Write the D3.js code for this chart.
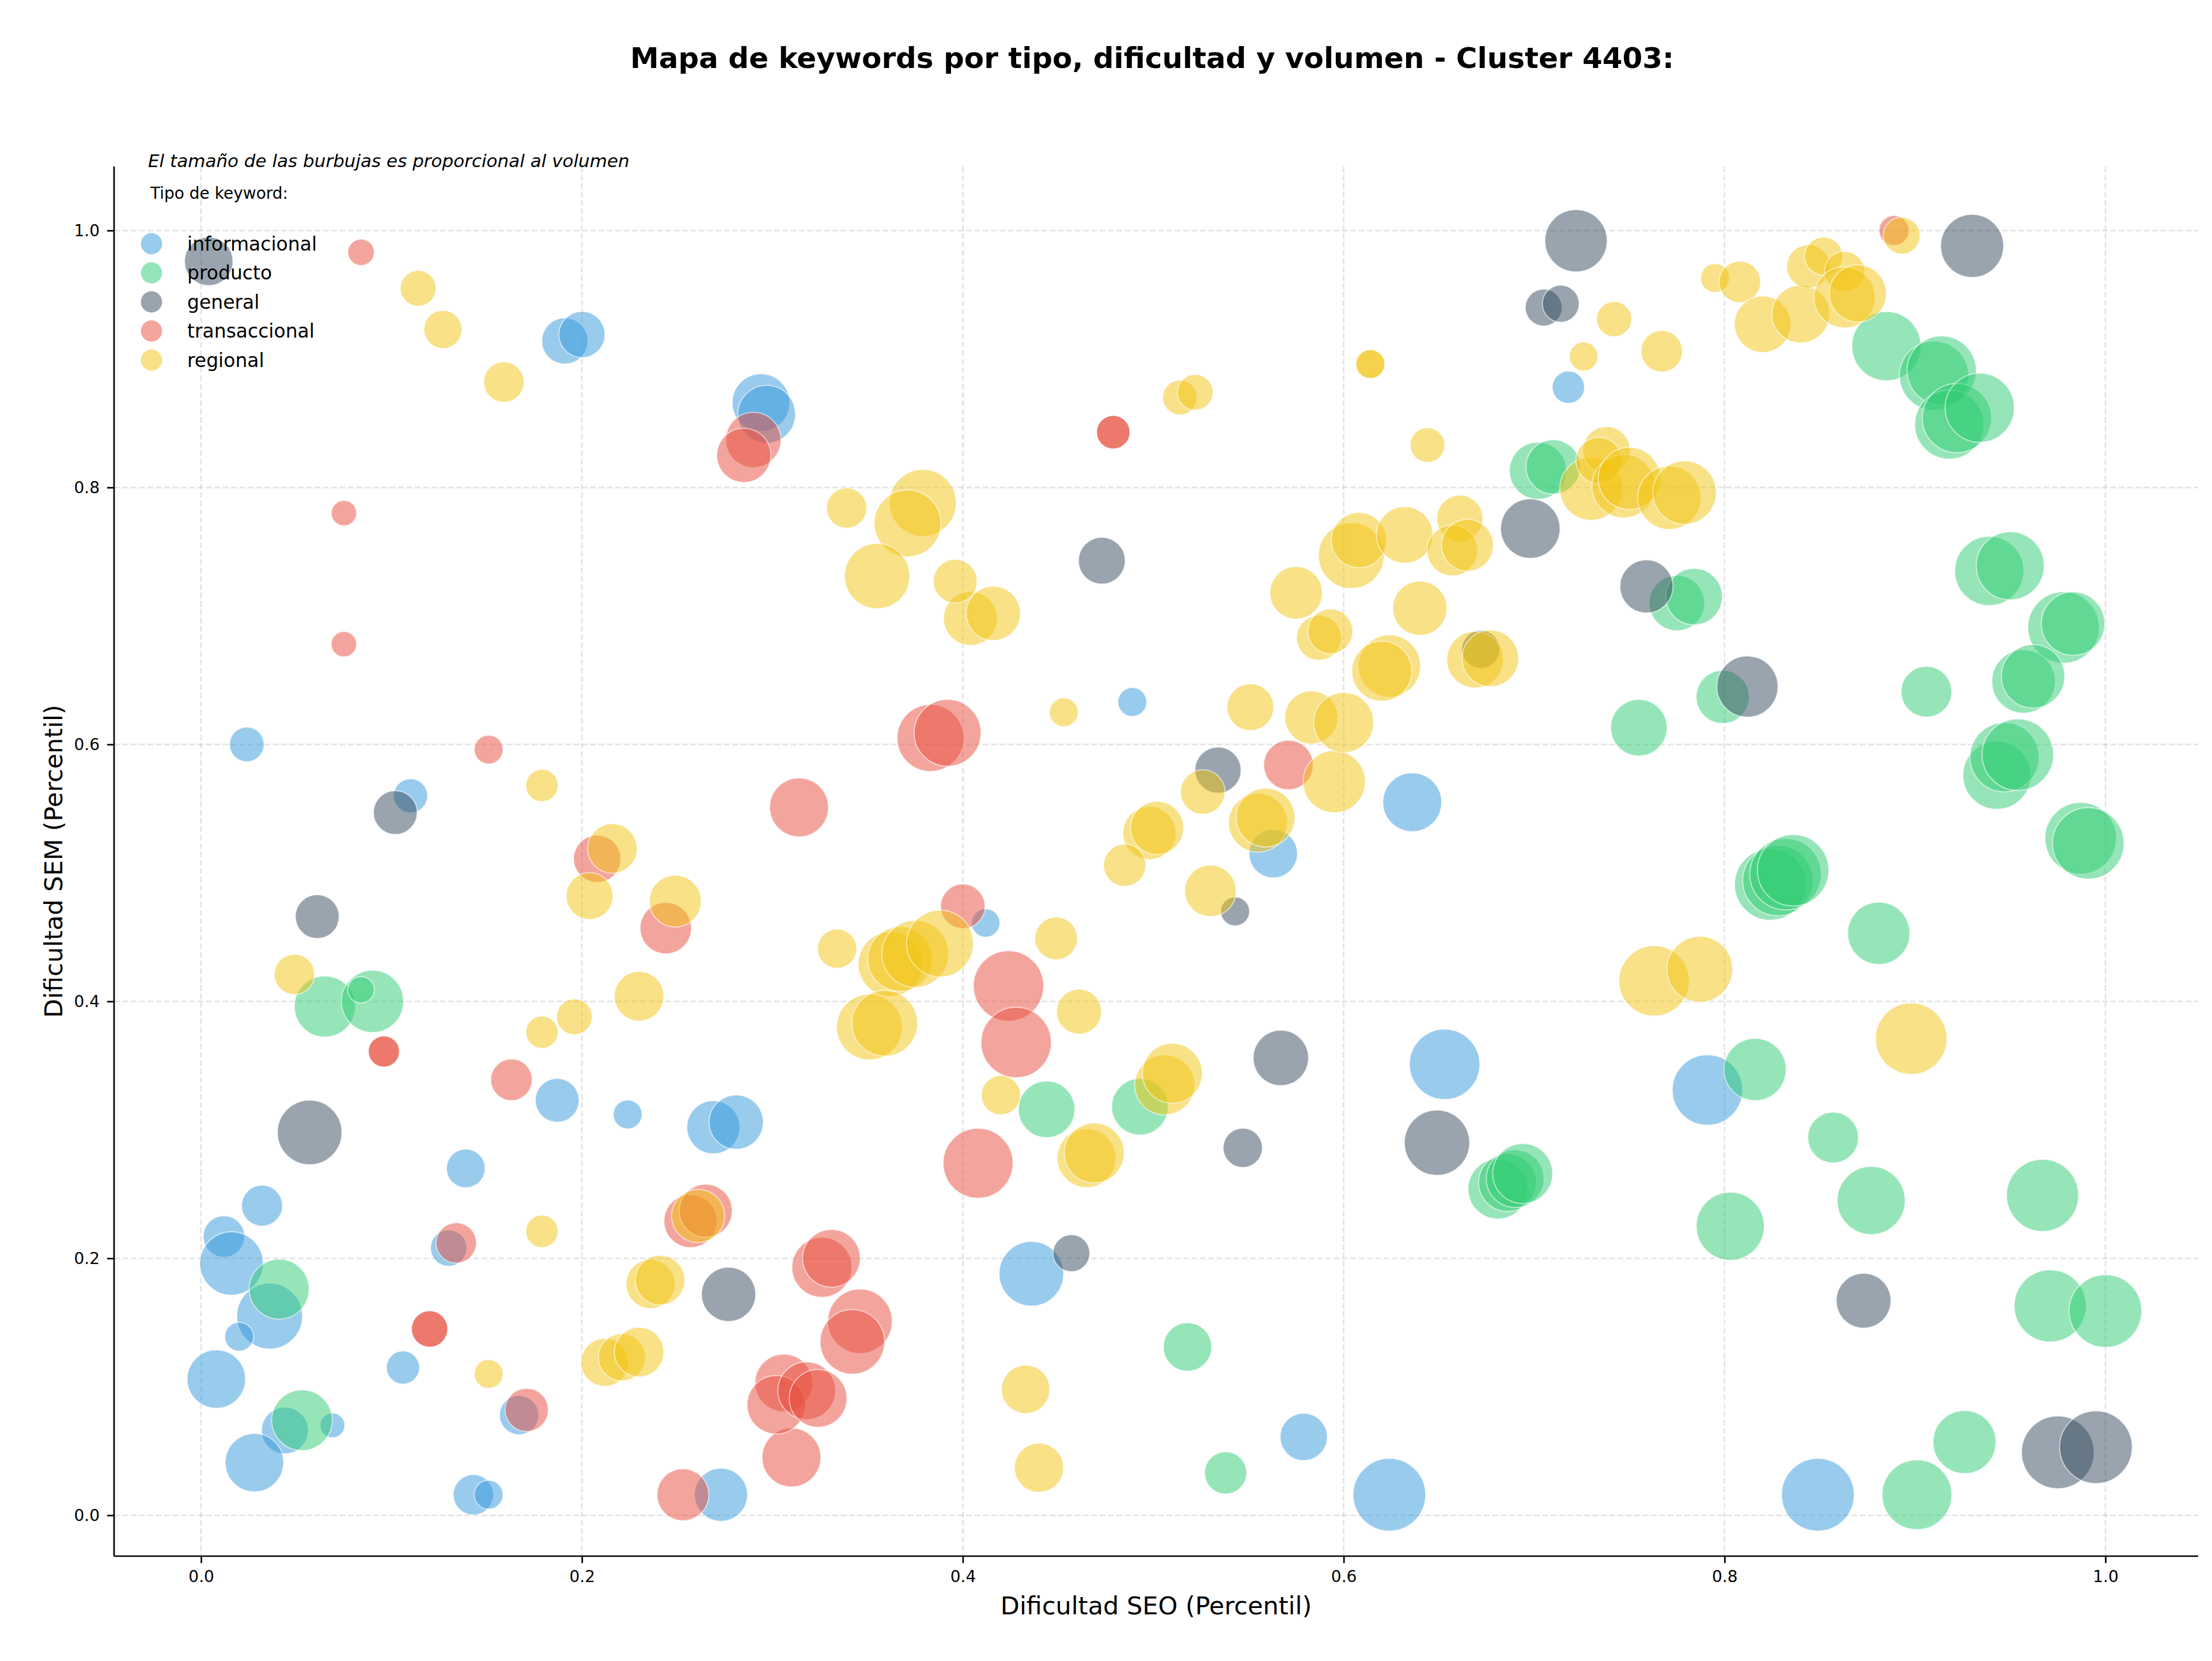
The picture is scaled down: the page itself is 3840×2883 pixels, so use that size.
<!DOCTYPE html>
<html>
<head>
<meta charset="utf-8">
<script src="https://cdn.jsdelivr.net/npm/d3@7"></script>
<style>
body { margin: 0; background: #fff; }
text { font-family: "DejaVu Sans", sans-serif; }
</style>
</head>
<body>
<div class="chart"></div>
<script>
const WIDTH = 3840;
const HEIGHT = 2883;

const LEFT = 198, RIGHT = 3816, TOP = 289, BOTTOM = 2701;

const titulo = 'Mapa de keywords por tipo, dificultad y volumen - Cluster 4403:';
const nota = 'El tamaño de las burbujas es proporcional al volumen';
const tipos = ['informacional', 'producto', 'general', 'transaccional', 'regional'];
const colores = ['#3498db', '#2ecc71', '#34495e', '#e74c3c', '#f1c40f'];
const ticks = [0, 0.2, 0.4, 0.6, 0.8, 1.0];

// [dificultad SEO, dificultad SEM, volumen]
const informacional = [
    [0.191, 0.914, 3790], [0.200, 0.919, 3790], [0.294, 0.866, 5920], [0.297, 0.857, 5920],
    [0.024, 0.600, 2130], [0.110, 0.560, 2060], [0.187, 0.323, 3420], [0.224, 0.312, 1480],
    [0.269, 0.302, 5010], [0.281, 0.306, 5230], [0.139, 0.270, 2660], [0.032, 0.241, 2980],
    [0.012, 0.217, 3070], [0.016, 0.196, 7160], [0.036, 0.155, 7690], [0.020, 0.139, 1480],
    [0.008, 0.106, 6060], [0.044, 0.066, 3900], [0.069, 0.070, 1090], [0.028, 0.041, 6060],
    [0.106, 0.115, 1950], [0.130, 0.208, 2350], [0.167, 0.078, 2740], [0.143, 0.016, 2900],
    [0.151, 0.016, 1480], [0.273, 0.016, 5010], [0.436, 0.188, 7420], [0.579, 0.061, 3980],
    [0.624, 0.016, 9390], [0.653, 0.351, 8810], [0.412, 0.461, 1440], [0.636, 0.555, 6160],
    [0.563, 0.515, 4180], [0.489, 0.633, 1480], [0.718, 0.878, 1860], [0.791, 0.331, 8810],
    [0.849, 0.016, 9390]
];

const producto = [
    [0.065, 0.396, 6650], [0.090, 0.400, 6900], [0.084, 0.409, 1250], [0.041, 0.176, 6400],
    [0.053, 0.074, 6550], [0.444, 0.316, 5680], [0.493, 0.318, 5680], [0.518, 0.131, 4180],
    [0.538, 0.033, 3170], [0.681, 0.254, 6400], [0.686, 0.259, 5920], [0.690, 0.262, 5920],
    [0.694, 0.266, 6400], [0.885, 0.910, 8520], [0.910, 0.887, 8520], [0.914, 0.891, 8520],
    [0.918, 0.849, 8520], [0.922, 0.854, 8520], [0.934, 0.862, 8520], [0.702, 0.813, 5800],
    [0.710, 0.816, 5230], [0.775, 0.710, 5450], [0.784, 0.715, 5680], [0.939, 0.735, 8520],
    [0.950, 0.739, 8240], [0.978, 0.691, 9100], [0.983, 0.694, 7160], [0.957, 0.649, 7160],
    [0.962, 0.653, 7160], [0.755, 0.613, 5680], [0.799, 0.637, 5010], [0.906, 0.641, 4580],
    [0.943, 0.576, 8240], [0.947, 0.590, 8520], [0.954, 0.592, 9100], [0.987, 0.527, 9100],
    [0.991, 0.523, 9100], [0.824, 0.491, 9100], [0.828, 0.494, 8810], [0.832, 0.499, 9100],
    [0.836, 0.502, 9100], [0.881, 0.453, 6900], [0.816, 0.347, 6900], [0.857, 0.294, 4580],
    [0.803, 0.225, 8240], [0.877, 0.245, 8240], [0.967, 0.249, 9250], [0.971, 0.163, 9250],
    [1.000, 0.159, 9390], [0.926, 0.057, 7060], [0.901, 0.016, 8660]
];

const general = [
    [0.004, 0.976, 4180], [0.102, 0.547, 3420], [0.061, 0.466, 3420], [0.057, 0.298, 7420],
    [0.277, 0.172, 5230], [0.457, 0.204, 2420], [0.547, 0.286, 2740], [0.649, 0.290, 7580],
    [0.567, 0.356, 5450], [0.534, 0.580, 3790], [0.543, 0.470, 1480], [0.672, 0.674, 2580],
    [0.473, 0.743, 3900], [0.698, 0.768, 6280], [0.722, 0.992, 6900], [0.930, 0.988, 7060],
    [0.705, 0.940, 2420], [0.714, 0.943, 2420], [0.759, 0.723, 5010], [0.812, 0.645, 6650],
    [0.873, 0.167, 5340], [0.975, 0.049, 9390], [0.995, 0.053, 9390]
];

const transaccional = [
    [0.084, 0.983, 1250], [0.290, 0.837, 5450], [0.285, 0.825, 5230], [0.075, 0.780, 1150],
    [0.075, 0.678, 1150], [0.151, 0.596, 1480], [0.314, 0.551, 6160], [0.208, 0.511, 3980],
    [0.244, 0.457, 4710], [0.096, 0.361, 1730], [0.096, 0.361, 1730], [0.163, 0.339, 3070],
    [0.120, 0.145, 2350], [0.120, 0.145, 2350], [0.134, 0.212, 2900], [0.171, 0.082, 3330],
    [0.257, 0.229, 5010], [0.265, 0.237, 5010], [0.253, 0.016, 4790], [0.310, 0.045, 6160],
    [0.306, 0.103, 5920], [0.302, 0.086, 6060], [0.318, 0.097, 5920], [0.324, 0.091, 5920],
    [0.326, 0.193, 6400], [0.331, 0.200, 5920], [0.346, 0.151, 7420], [0.342, 0.135, 7420],
    [0.408, 0.274, 8690], [0.424, 0.412, 8810], [0.428, 0.368, 8810], [0.400, 0.474, 3530],
    [0.383, 0.605, 7960], [0.392, 0.609, 7960], [0.571, 0.584, 4380], [0.479, 0.843, 1990],
    [0.479, 0.843, 1990], [0.889, 1.000, 1600]
];

const regional = [
    [0.114, 0.955, 2270], [0.127, 0.923, 2580], [0.159, 0.882, 2900], [0.179, 0.568, 1860],
    [0.216, 0.519, 4380], [0.204, 0.482, 3900], [0.249, 0.478, 4790], [0.049, 0.421, 2900],
    [0.179, 0.376, 1860], [0.196, 0.388, 2270], [0.230, 0.404, 4380], [0.179, 0.221, 1860],
    [0.151, 0.110, 1480], [0.212, 0.119, 4080], [0.221, 0.123, 3980], [0.230, 0.127, 4380],
    [0.236, 0.180, 4300], [0.241, 0.183, 4380], [0.261, 0.233, 5010], [0.420, 0.327, 2740],
    [0.506, 0.335, 6400], [0.510, 0.344, 6400], [0.465, 0.278, 6160], [0.469, 0.282, 6400],
    [0.433, 0.098, 4180], [0.440, 0.037, 4300], [0.461, 0.392, 3600], [0.449, 0.449, 3240],
    [0.334, 0.441, 2740], [0.362, 0.429, 7420], [0.367, 0.433, 7420], [0.375, 0.437, 7960],
    [0.388, 0.445, 7960], [0.351, 0.380, 7690], [0.359, 0.383, 7690], [0.526, 0.563, 3530],
    [0.595, 0.571, 6900], [0.551, 0.629, 3900], [0.583, 0.621, 5010], [0.600, 0.617, 6400],
    [0.624, 0.661, 6900], [0.620, 0.657, 6400], [0.669, 0.666, 5680], [0.677, 0.667, 5680],
    [0.587, 0.683, 3600], [0.593, 0.688, 3600], [0.498, 0.531, 5010], [0.502, 0.535, 5010],
    [0.485, 0.506, 3170], [0.530, 0.486, 4710], [0.555, 0.539, 6160], [0.559, 0.543, 6160],
    [0.453, 0.625, 1480], [0.404, 0.698, 5140], [0.416, 0.702, 5230], [0.339, 0.784, 2900],
    [0.379, 0.788, 7960], [0.371, 0.772, 7960], [0.355, 0.731, 7580], [0.396, 0.727, 3420],
    [0.514, 0.870, 2130], [0.522, 0.874, 2270], [0.614, 0.896, 1480], [0.614, 0.896, 1480],
    [0.644, 0.833, 2130], [0.575, 0.718, 4900], [0.604, 0.747, 7690], [0.608, 0.759, 5450],
    [0.632, 0.763, 5680], [0.661, 0.776, 3790], [0.657, 0.751, 4580], [0.665, 0.755, 4790],
    [0.640, 0.706, 5230], [0.742, 0.931, 2200], [0.726, 0.902, 1480], [0.767, 0.906, 3070],
    [0.893, 0.996, 2420], [0.795, 0.963, 1480], [0.808, 0.960, 3070], [0.820, 0.927, 5680],
    [0.840, 0.935, 5920], [0.844, 0.972, 3350], [0.852, 0.980, 2580], [0.863, 0.968, 2900],
    [0.863, 0.948, 6650], [0.870, 0.951, 5800], [0.730, 0.799, 7060], [0.738, 0.829, 3980],
    [0.734, 0.821, 3790], [0.747, 0.801, 7160], [0.750, 0.807, 6900], [0.771, 0.792, 7160],
    [0.779, 0.796, 7160], [0.763, 0.416, 8810], [0.787, 0.425, 7690], [0.898, 0.371, 9100]
];

const series = [informacional, producto, general, transaccional, regional];

var xScale = d3.scaleLinear().domain([-0.0457, 1.0487]).range([LEFT, RIGHT]);
var yScale = d3.scaleLinear().domain([-0.0318, 1.0498]).range([BOTTOM, TOP]);
var rScale = d3.scaleSqrt().domain([0, 10000]).range([0, 65]);
var fmt = d3.format('.1f');

var translate = function (x, y) {
    return 'translate(' + x + ',' + y + ')';
};

var generateGrid = function (svg) {
    var g = svg.append('g').attr('class', 'grid')
        .attr('stroke', '#b0b0b0')
        .attr('stroke-opacity', 0.35)
        .attr('stroke-width', 2.7)
        .attr('stroke-dasharray', '10,4.5');

    g.selectAll('.gx').data(ticks).enter().append('line')
        .attr('x1', d => xScale(d)).attr('x2', d => xScale(d))
        .attr('y1', TOP).attr('y2', BOTTOM);

    g.selectAll('.gy').data(ticks).enter().append('line')
        .attr('x1', LEFT).attr('x2', RIGHT)
        .attr('y1', d => yScale(d)).attr('y2', d => yScale(d));
};

var generateAxis = function (svg) {
    var xAxis = d3.axisBottom(xScale).tickValues(ticks).tickFormat(fmt).tickSize(12).tickPadding(13);
    var yAxis = d3.axisLeft(yScale).tickValues(ticks).tickFormat(fmt).tickSize(12).tickPadding(13);

    var gx = svg.append('g').attr('transform', translate(0, BOTTOM)).call(xAxis);
    var gy = svg.append('g').attr('transform', translate(LEFT, 0)).call(yAxis);

    [gx, gy].forEach(function (g) {
        g.select('.domain').remove();
        g.selectAll('line').attr('stroke', '#000').attr('stroke-width', 2.7);
        g.selectAll('text').attr('font-size', 28).attr('fill', '#000')
            .attr('font-family', '"DejaVu Sans", sans-serif');
    });

    svg.append('line').attr('x1', LEFT).attr('x2', RIGHT)
        .attr('y1', BOTTOM).attr('y2', BOTTOM)
        .attr('stroke', '#000').attr('stroke-width', 2.7);
    svg.append('line').attr('x1', LEFT).attr('x2', LEFT)
        .attr('y1', TOP).attr('y2', BOTTOM)
        .attr('stroke', '#000').attr('stroke-width', 2.7);

    svg.append('text')
        .attr('x', (LEFT + RIGHT) / 2).attr('y', 2802)
        .attr('text-anchor', 'middle')
        .attr('font-size', 43)
        .text('Dificultad SEO (Percentil)');

    svg.append('text')
        .attr('transform', translate(108, (TOP + BOTTOM) / 2) + ' rotate(-90)')
        .attr('text-anchor', 'middle')
        .attr('font-size', 43)
        .text('Dificultad SEM (Percentil)');
};

var generateBubbles = function (svg) {
    svg.append('clipPath').attr('id', 'area')
        .append('rect')
        .attr('x', LEFT).attr('y', TOP)
        .attr('width', RIGHT - LEFT).attr('height', BOTTOM - TOP);

    var g = svg.append('g').attr('clip-path', 'url(#area)');

    series.forEach(function (data, i) {
        g.append('g')
            .attr('class', tipos[i])
            .selectAll('circle').data(data)
            .enter().append('circle')
            .attr('cx', d => xScale(d[0]))
            .attr('cy', d => yScale(d[1]))
            .attr('r', d => rScale(d[2]))
            .attr('fill', colores[i])
            .attr('fill-opacity', 0.5)
            .attr('stroke', '#fff')
            .attr('stroke-opacity', 0.6)
            .attr('stroke-width', 1.8);
    });
};

var generateLegend = function (svg) {
    svg.append('text')
        .attr('x', 257).attr('y', 290)
        .attr('font-size', 31)
        .attr('font-style', 'italic')
        .text(nota);

    svg.append('text')
        .attr('x', 261).attr('y', 345)
        .attr('font-size', 28)
        .text('Tipo de keyword:');

    var items = svg.append('g').selectAll('g').data(tipos)
        .enter().append('g')
        .attr('transform', (d, i) => translate(263, 423 + i * 50.5));

    items.append('circle')
        .attr('r', 18.5)
        .attr('fill', (d, i) => colores[i])
        .attr('fill-opacity', 0.5);

    items.append('text')
        .attr('x', 62).attr('dy', '0.35em')
        .attr('font-size', 33)
        .text(d => d);
};

var generateChart = function () {
    var svg = d3.select('.chart').append('svg')
        .attr('width', WIDTH)
        .attr('height', HEIGHT)
        .style('display', 'block');

    svg.append('rect').attr('width', WIDTH).attr('height', HEIGHT).attr('fill', '#fff');

    generateGrid(svg);
    generateBubbles(svg);
    generateAxis(svg);
    generateLegend(svg);

    svg.append('text')
        .attr('x', 2000).attr('y', 118)
        .attr('text-anchor', 'middle')
        .attr('font-size', 50)
        .attr('font-weight', 'bold')
        .text(titulo);
};

generateChart();
</script>
</body>
</html>
